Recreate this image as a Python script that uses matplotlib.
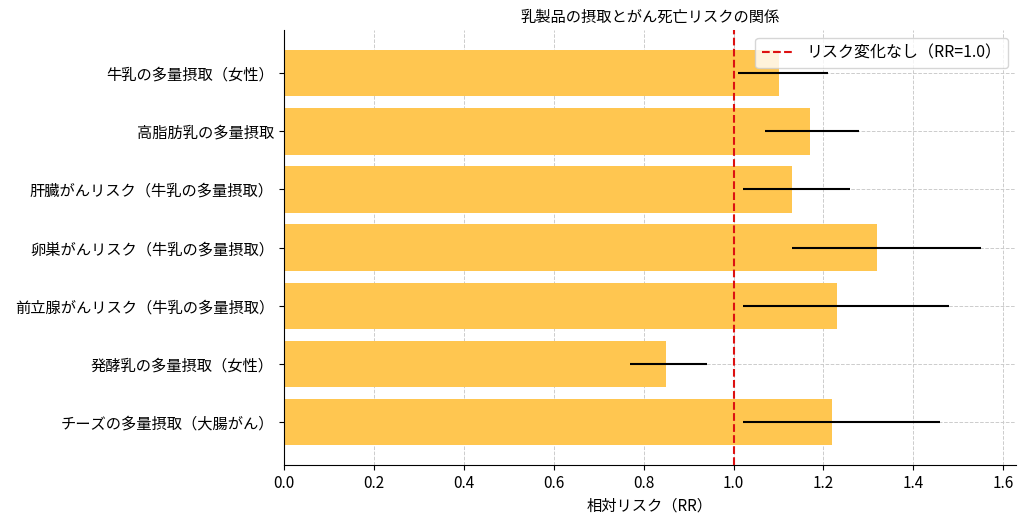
import numpy as np
import matplotlib.pyplot as plt

plt.rcParams['font.family'] = ['Noto Sans CJK JP', 'DejaVu Sans']

# データ（上から順）
labels = [
    '牛乳の多量摂取（女性）',
    '高脂肪乳の多量摂取',
    '肝臓がんリスク（牛乳の多量摂取）',
    '卵巣がんリスク（牛乳の多量摂取）',
    '前立腺がんリスク（牛乳の多量摂取）',
    '発酵乳の多量摂取（女性）',
    'チーズの多量摂取（大腸がん）',
]
rr = [1.10, 1.17, 1.13, 1.32, 1.23, 0.85, 1.22]
ci_low = [1.01, 1.07, 1.02, 1.13, 1.02, 0.77, 1.02]
ci_high = [1.21, 1.28, 1.26, 1.55, 1.48, 0.94, 1.46]

# 下から描画するので反転
labels_r = labels[::-1]
rr_r = np.array(rr[::-1])
lo_r = np.array(ci_low[::-1])
hi_r = np.array(ci_high[::-1])
xerr = [rr_r - lo_r, hi_r - rr_r]

fig, ax = plt.subplots(figsize=(10.24, 5.18), dpi=100)
y = np.arange(len(labels_r))
ax.barh(y, rr_r, xerr=xerr, color='#FFC650', ecolor='black',
        error_kw=dict(lw=1.5, capsize=0), zorder=2)
ax.axvline(1.0, color='#DD1111', linestyle='--', lw=1.5, label='リスク変化なし（RR=1.0）', zorder=3)

ax.set_yticks(y)
ax.set_yticklabels(labels_r, fontsize=11)
ax.tick_params(axis='x', labelsize=11)
ax.set_xlabel('相対リスク（RR）', fontsize=11)
ax.set_title('乳製品の摂取とがん死亡リスクの関係', fontsize=11)
ax.grid(True, linestyle='--', color='#CCCCCC', lw=0.7, zorder=0)
ax.set_axisbelow(True)
ax.spines['top'].set_visible(False)
ax.spines['right'].set_visible(False)
ax.legend(loc='upper right', fontsize=11.5)

plt.subplots_adjust(left=0.277, right=0.992, top=0.942, bottom=0.102)
plt.savefig('out.png')
